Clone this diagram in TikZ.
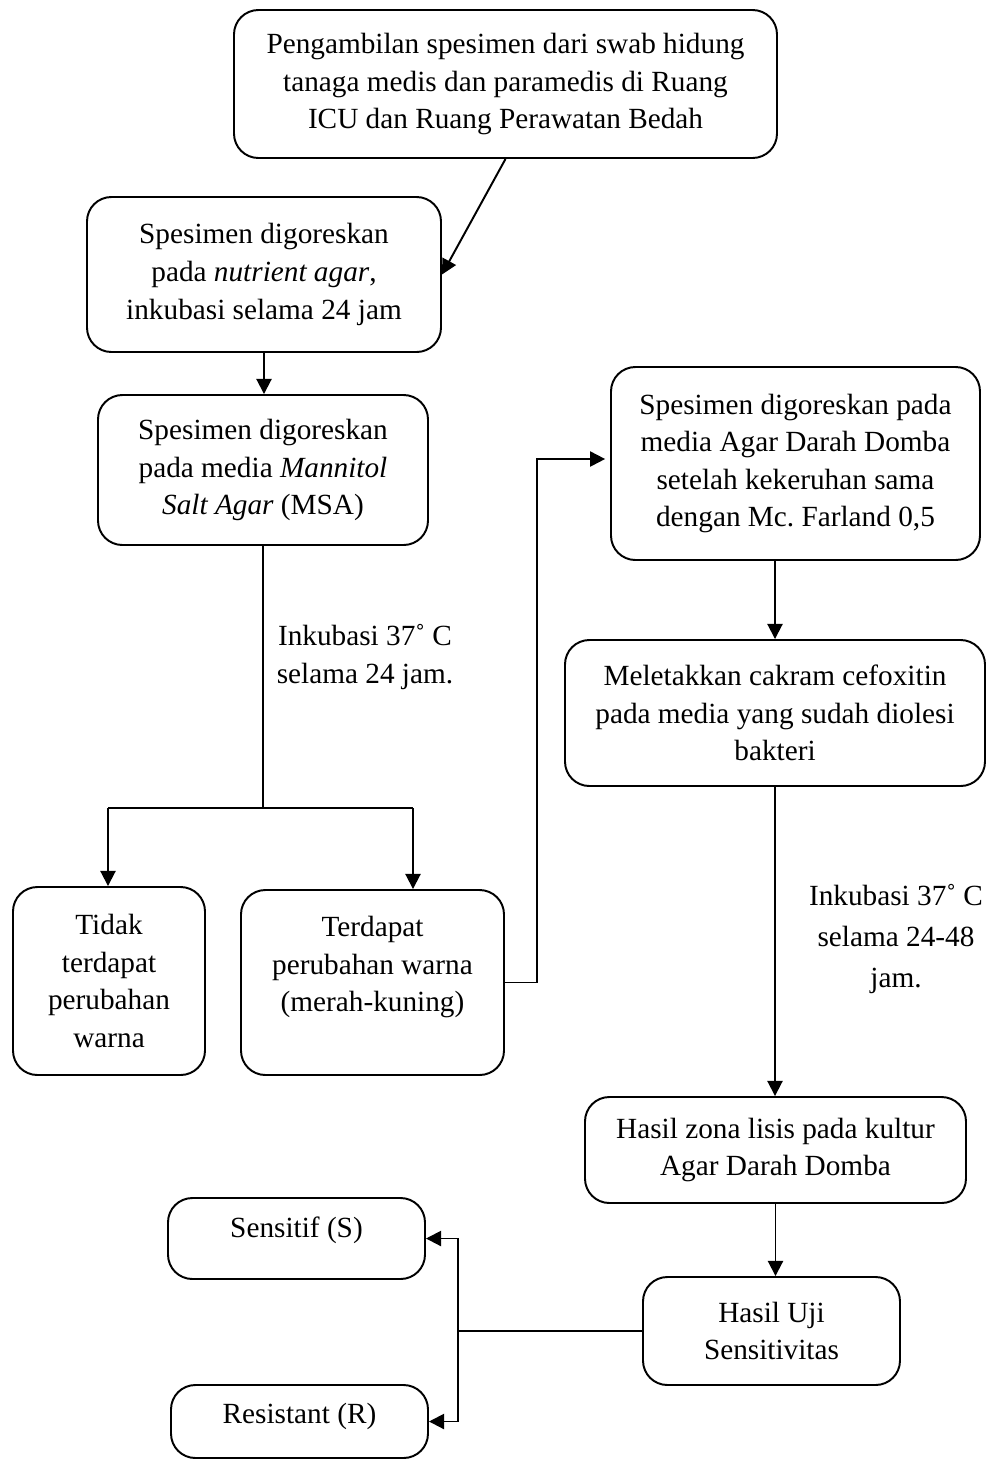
\documentclass[tikz,border=0pt]{standalone}
\usepackage{fontspec}
\setmainfont{Liberation Serif}
\usetikzlibrary{arrows.meta}
\newcommand{\pxl}{0.41pt}
\tikzset{
  kotak/.style={draw, rounded corners=10pt, line width=0.8pt, align=center, inner sep=2pt, font=\fontsize{12}{15.4}\selectfont},
  teks/.style={align=center, inner sep=0pt, font=\fontsize{12}{15.4}\selectfont}
}
\begin{document}
\begin{tikzpicture}[x=\pxl, y=-\pxl, >={Triangle[length=6.2pt,width=6.2pt]}, line width=0.8pt]
	\useasboundingbox (0,0) rectangle (989,1461);
	
	\node[kotak, minimum width=543*\pxl, minimum height=148*\pxl] (awal) at (505.5,84) {Pengambilan spesimen dari swab hidung\\tanaga medis dan paramedis di Ruang\\ICU dan Ruang Perawatan Bedah};
	\node[kotak, minimum width=354*\pxl, minimum height=155*\pxl] (gores1) at (264,274.5) {Spesimen digoreskan\\pada \textit{nutrient agar},\\inkubasi selama 24 jam};
	\node[kotak, minimum width=330*\pxl, minimum height=150*\pxl] (msa) at (263,470) {Spesimen digoreskan\\pada media \textit{Mannitol}\\\textit{Salt Agar} (MSA)};
	\node[kotak, minimum width=192*\pxl, minimum height=188*\pxl] (tidak) at (109,981) {Tidak\\terdapat\\perubahan\\warna};
	\node[kotak, minimum width=263*\pxl, minimum height=185*\pxl, text depth=15pt] (ubah) at (372.5,982.5) {Terdapat\\perubahan warna\\(merah-kuning)};
	
	\node[kotak, minimum width=369*\pxl, minimum height=193*\pxl] (darah) at (795.5,463.5) {Spesimen digoreskan pada\\media Agar Darah Domba\\setelah kekeruhan sama\\dengan Mc.\ Farland 0,5};
	\node[kotak, minimum width=420*\pxl, minimum height=146*\pxl] (cakram) at (775,713) {Meletakkan cakram cefoxitin\\pada media yang sudah diolesi\\bakteri};
	\node[kotak, minimum width=381*\pxl, minimum height=106*\pxl] (zona) at (775.5,1150) {Hasil zona lisis pada kultur\\Agar Darah Domba};
	\node[kotak, minimum width=257*\pxl, minimum height=108*\pxl] (uji) at (771.5,1331) {Hasil Uji\\Sensitivitas};
	\node[kotak, minimum width=257*\pxl, minimum height=81*\pxl, text depth=9.5pt] (sens) at (296.5,1238.5) {Sensitif (S)};
	\node[kotak, minimum width=257*\pxl, minimum height=73*\pxl, text depth=7pt] (resis) at (299.5,1421.5) {Resistant (R)};
	
	\node[teks] (inkub1) at (365,657) {Inkubasi 37˚ C\\selama 24 jam.};
	\node[teks, font=\fontsize{12}{16.8}\selectfont] (inkub2) at (896,939) {Inkubasi 37˚ C\\selama 24-48\\jam.};
	
	\coordinate (cabang) at (263,808);
	\coordinate (kiri) at (108,808);
	\coordinate (kanan) at (413,808);
	\coordinate (belok) at (537,459);
	\coordinate (bagi) at (458,1335);
	
	\draw[->] (awal.south) -- (gores1.east);
	\draw[->] (gores1.south) -- (gores1.south |- msa.north);
	\draw (msa.south) -- (cabang);
	\draw (kiri) -- (kanan);
	\draw[->] (kiri) -- (kiri |- tidak.north);
	\draw[->] (kanan) -- (kanan |- ubah.north);
	\draw[->, shorten >=2pt] (ubah.east) -- (belok |- ubah.east) -- (belok) -- (darah.west |- belok);
	
	\draw[->] (darah.south -| cakram.north) -- (cakram.north);
	\draw[->] (cakram.south) -- (cakram.south |- zona.north);
	\draw[->] (zona.south) -- (zona.south |- uji.north);
	\draw (uji.west) -- (uji.west -| bagi);
	\draw[->] (bagi) -- (bagi |- sens.east) -- (sens.east);
	\draw[->] (bagi) -- (bagi |- resis.east) -- (resis.east);
\end{tikzpicture}
\end{document}
